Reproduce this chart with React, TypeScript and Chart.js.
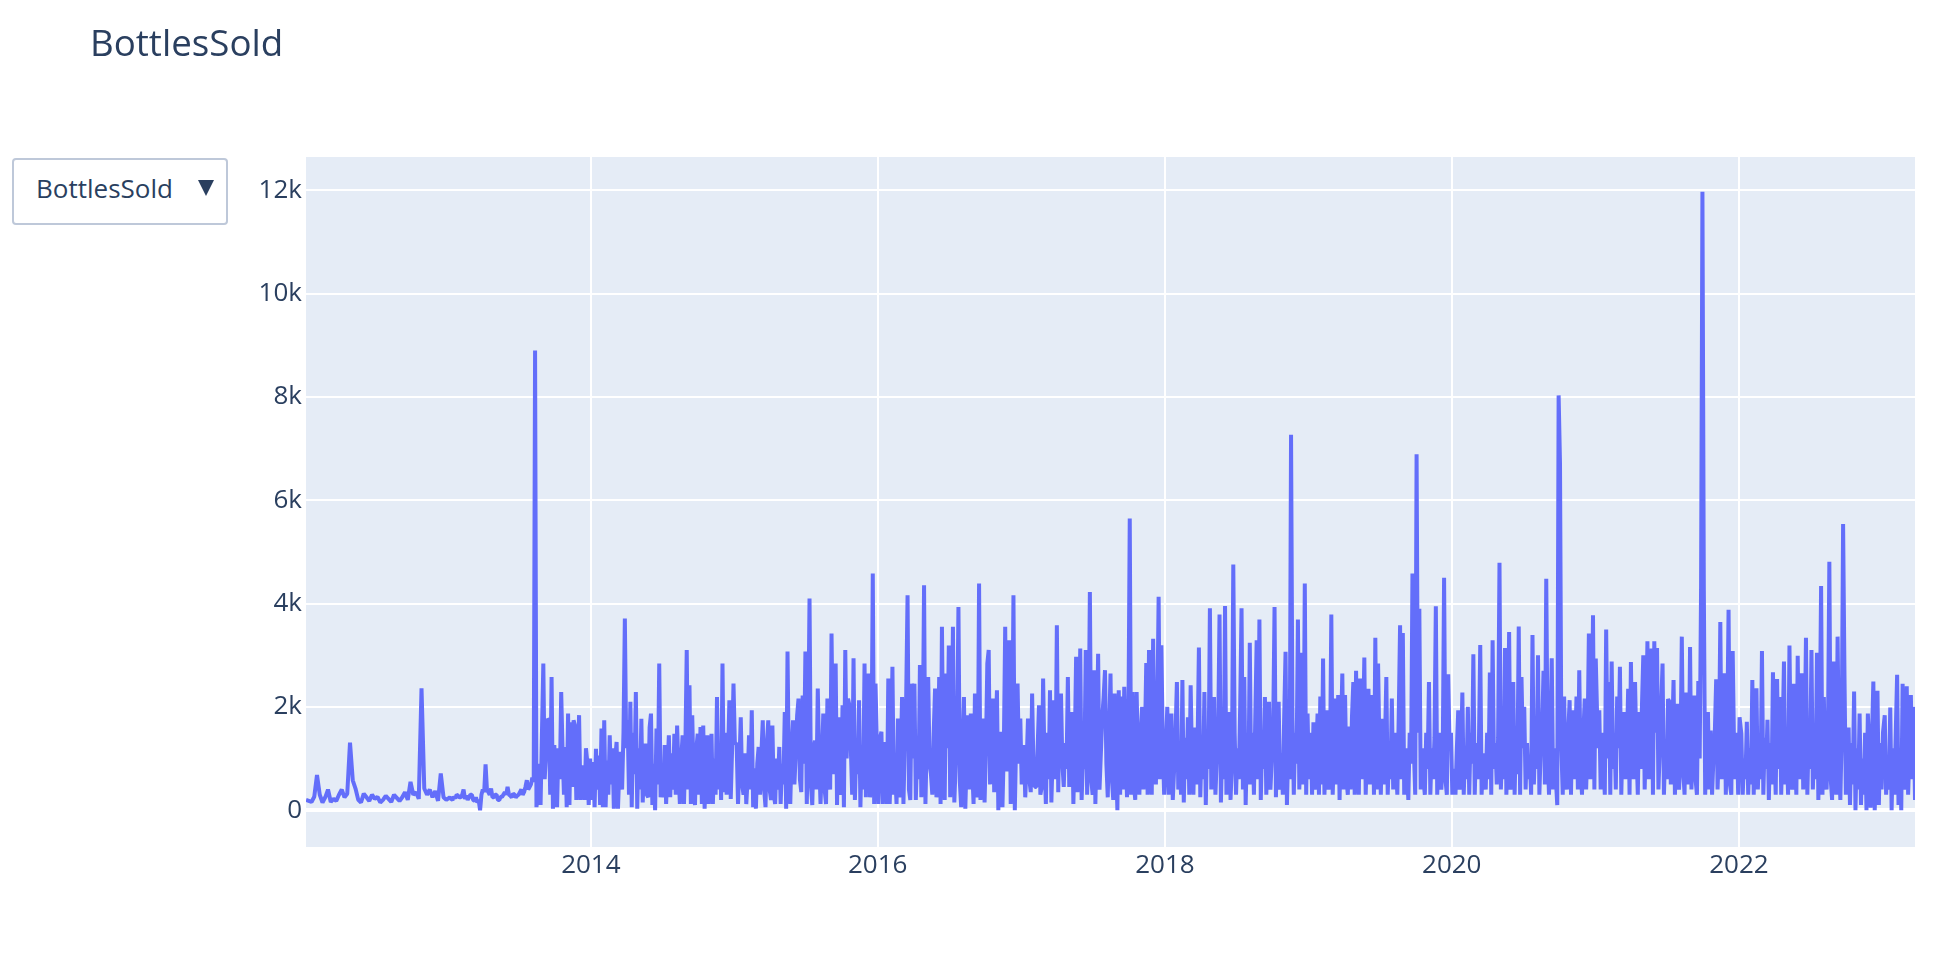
import React, { useEffect, useRef } from "react";
import { Chart, registerables } from "chart.js";

Chart.register(...registerables);

const TITLE = "BottlesSold";
const MENU_LABEL = "BottlesSold";
const X_TICK_YEARS = [2014, 2016, 2018, 2020, 2022];
const Y_TICKS = [0, 2000, 4000, 6000, 8000, 10000, 12000];
const Y_TICK_LABELS = ["0", "2k", "4k", "6k", "8k", "10k", "12k"];

// Values per year, starting on 7 January; 2012 is weekly, later years every 3.5 days
const bottles2012 = [200,180,160,260,680,300,150,250,400,160,220,180,300,400,250,320,1310,580,420,200,150,320,250,180,300,220,260,150,200,280,220,160,300,240,180,250,350,200,550,300,350,220,2360,420,300,400,250,370,180,710,250,200];
const bottles2013 = [
  250,220,200,260,230,300,280,250,250,300,400,220,280,200,250,300,300,200,180,250,150,200,0,300,400,350,
  890,400,350,300,420,250,250,300,300,200,200,260,260,300,350,300,450,300,280,250,320,300,250,280,300,350,
  400,300,350,450,580,400,450,500,630,550,8900,60,300,900,100,1500,2840,600,1160,1770,1740,300,2580,30,1260,400,
  60,1200,600,2290,1140,300,1225,60,1870,100,1700,450,1740,1640,200,900,1840,200,600,870,200,1200,930,100,1000,200,
];
const bottles2014 = [
  930,60,1190,400,1060,100,1580,60,1740,60,960,300,1450,500,1200,30,1000,1320,30,800,1130,400,1500,3710,1200,1740,
  300,2100,60,1500,700,2290,30,1200,400,1770,150,900,1290,300,250,1600,1870,100,900,0,1580,500,2840,250,900,250,
  1260,120,800,1450,250,1100,400,1480,300,1640,800,120,1000,1450,120,1200,3100,400,2420,120,1840,600,100,1200,1480,300,
  1610,120,1640,30,900,1450,120,700,1480,120,1000,300,2190,400,1300,200,2840,350,1500,300,1000,2130,220,1200,2450,1290,
];
const bottles2015 = [
  1290,120,900,1800,500,300,1100,120,600,1450,400,1935,60,810,30,900,1225,300,1100,1740,400,60,1300,1740,400,200,
  1640,300,120,1000,400,1225,120,900,500,1900,30,3070,700,120,1200,1740,500,1100,1840,2160,600,350,2220,900,3070,120,
  1400,4100,500,100,1200,1350,400,2355,1000,120,900,1870,400,120,2160,800,400,3420,1200,700,2840,100,1800,600,300,2030,
  60,3100,1000,2160,2030,1225,300,2940,200,1200,700,2130,60,1200,400,2840,250,1840,2645,250,900,4580,120,2450,1225,120,
];
const bottles2016 = [
  1400,1520,120,800,1320,120,2550,120,1000,2775,300,700,120,1775,250,900,2190,120,1300,2190,4160,400,200,2450,1000,2450,
  200,1100,600,2810,250,1200,4355,120,1400,2580,900,700,300,1500,2355,250,1000,2580,120,3550,900,200,2645,1200,3190,250,
  1300,3550,150,900,1400,3935,550,60,1200,2190,30,1000,1840,400,1870,800,120,2260,600,250,4390,200,900,1775,150,1200,
  2840,3100,500,900,2160,350,1400,2320,0,900,1520,60,1200,3550,750,1300,3290,120,900,4160,0,1400,2450,900,1775,500,
];
const bottles2017 = [
  1260,250,900,1775,600,350,2260,800,450,450,1200,2030,300,450,2550,900,120,1500,600,2320,150,1100,2130,600,3580,350,
  2030,2260,900,450,1300,800,2580,450,900,1900,120,1200,2970,350,1400,3130,200,1000,800,3100,300,1200,4225,600,300,2710,
  120,1300,3030,400,1100,1800,2190,2710,900,250,1500,2645,600,200,2260,1000,0,2320,300,2200,400,2390,1200,250,1600,5645,
  300,2290,500,200,2290,1000,300,1500,2000,400,1300,2850,300,3100,800,300,3320,1200,500,1800,4130,600,3195,1300,300,900,
];
const bottles2018 = [
  2000,300,1200,1870,200,800,1500,2480,400,1100,300,2520,150,1400,600,1800,300,2420,900,300,1600,500,1200,3150,250,1300,
  600,2290,100,1400,800,3910,400,1200,2190,300,1000,1500,3790,150,1300,600,3955,300,1200,1900,200,900,4755,1500,300,1200,
  600,2000,3910,400,2580,100,1300,500,3240,500,1500,300,1800,3290,600,3690,200,1400,800,2190,300,1200,2100,400,1000,1600,
  3935,250,1300,2100,400,1100,300,1800,3065,100,1200,600,7270,1800,300,1500,900,3690,400,1200,3050,500,4390,300,1870,600,
];
const bottles2019 = [
  1500,300,1700,400,1100,1870,300,2200,500,2935,300,1200,1935,400,800,3790,300,1200,2160,500,2230,200,1500,2645,400,2230,
  600,300,1620,400,1800,2480,300,2700,900,300,2550,600,1400,2955,300,1200,2350,500,1100,2230,300,3340,400,2840,1200,300,
  1770,500,1300,2580,300,1100,600,2160,400,1500,900,300,1800,3580,600,3430,300,1200,800,200,1500,900,4580,1200,300,6890,
  1500,3900,400,1200,600,300,1500,800,2480,300,1200,600,1400,3950,300,1100,1500,400,1000,4500,600,300,2630,1200,1500,300,
];
const bottles2020 = [
  800,300,1200,1935,400,1000,2280,300,1200,600,2000,300,1500,900,3020,300,1300,600,1200,3200,300,1000,1100,400,1500,600,
  2665,300,3290,800,1300,500,1400,4790,400,1200,600,3140,300,1200,3450,400,1000,2480,300,1500,700,3555,300,2580,1200,2000,
  400,1300,600,1000,300,3390,500,1400,800,3000,300,1200,1500,2700,500,4480,1100,300,1500,2940,400,1200,600,100,8030,6710,
  1200,300,2200,900,400,1500,2130,300,1935,600,1200,2200,400,2710,800,300,1500,2160,400,1300,3420,600,1200,3775,400,2935,
];
const bottles2021 = [
  1200,1935,400,1500,900,300,3500,1000,2480,300,2880,800,1500,400,2200,1200,2775,300,1500,1900,600,1200,2350,300,2870,1000,
  600,2480,1200,300,1900,800,2000,3000,400,1500,3270,600,1400,3130,300,3270,1500,3140,400,1200,2000,2840,300,1200,600,2150,
  2100,500,1400,2520,300,1200,2060,400,1000,3360,800,300,2280,1300,500,3160,400,1200,2220,600,300,2500,1000,4270,11970,4330,
  300,1200,1900,400,1540,300,1000,1500,2535,400,1200,3645,600,1300,2650,300,1500,3880,500,300,3080,1200,600,1500,300,1800,
];
const bottles2022 = [
  1480,300,1000,600,1710,300,1200,500,2520,300,1500,2360,400,1200,600,3080,300,1400,800,1750,200,1300,500,2670,1200,300,
  2540,800,2190,300,1400,2880,500,1200,300,3190,1000,400,2450,1200,300,2990,600,1500,2650,400,1200,3340,300,1500,800,3100,
  400,1300,600,3050,200,1500,4340,300,2190,900,400,1500,4810,600,200,2880,1200,300,3360,1000,200,1500,5540,2620,300,1200,
  1600,100,1300,500,2300,0,1200,400,1870,100,1000,300,1500,0,1870,1200,50,1400,2490,0,900,2310,100,1300,400,1500,
];
const bottles2023 = [1840,300,1000,400,1990,0,1200,300,1500,2620,100,1200,0,2450,400,1000,2400,300,1200,2230,600,2000,200];

// [year, days between values, values]
const YEAR_SERIES: [number, number, number[]][] = [
  [2012, 7, bottles2012],
  [2013, 3.5, bottles2013],
  [2014, 3.5, bottles2014],
  [2015, 3.5, bottles2015],
  [2016, 3.5, bottles2016],
  [2017, 3.5, bottles2017],
  [2018, 3.5, bottles2018],
  [2019, 3.5, bottles2019],
  [2020, 3.5, bottles2020],
  [2021, 3.5, bottles2021],
  [2022, 3.5, bottles2022],
  [2023, 3.5, bottles2023],
];

const DAY = 86400000;
const FONT_FAMILY = "'Open Sans', verdana, arial, sans-serif";
const TEXT_COLOR = "#2a3f5f";

export default function App() {
  const canvasRef = useRef<HTMLCanvasElement | null>(null);

  useEffect(() => {
    const canvas = canvasRef.current;
    if (!canvas) return;

    const points = YEAR_SERIES.flatMap(([yr, step, vals]) =>
      vals.map((v, i) => ({ x: Date.UTC(yr, 0, 7) + i * step * DAY, y: v }))
    );
    const xMin = points[0].x;
    const xMax = points[points.length - 1].x;

    const bgPlugin = {
      id: "plotBg",
      beforeDraw(chart: any) {
        const { ctx, chartArea } = chart;
        ctx.save();
        ctx.fillStyle = "#E5ECF6";
        ctx.fillRect(chartArea.left, chartArea.top, chartArea.right - chartArea.left, chartArea.bottom - chartArea.top);
        ctx.restore();
      },
    };

    const font = { family: FONT_FAMILY, size: 26 };

    const chart = new Chart(canvas, {
      type: "line",
      data: {
        datasets: [
          {
            label: TITLE,
            data: points,
            borderColor: "#636efa",
            backgroundColor: "#636efa",
            borderWidth: 4,
            pointRadius: 0,
            tension: 0,
            borderJoinStyle: "bevel",
            fill: false,
          },
        ],
      },
      options: {
        responsive: false,
        animation: false,
        devicePixelRatio: 1,
        layout: { padding: { top: 157, right: 35, bottom: 0, left: 0 } },
        plugins: {
          legend: { display: false },
          tooltip: { enabled: false },
          title: { display: false },
        },
        scales: {
          x: {
            type: "linear",
            min: xMin,
            max: xMax,
            afterBuildTicks: (scale: any) => {
              scale.ticks = X_TICK_YEARS.map((y) => ({ value: Date.UTC(y, 0, 1) }));
            },
            afterFit: (scale: any) => {
              scale.height = 109;
            },
            ticks: {
              autoSkip: false,
              maxRotation: 0,
              padding: 3,
              color: TEXT_COLOR,
              font,
              callback: (v: any) => String(new Date(Number(v)).getUTCFullYear()),
            },
            grid: { color: "#ffffff", lineWidth: 2, drawTicks: false },
            border: { display: false },
          },
          y: {
            type: "linear",
            min: -712,
            max: 12645,
            afterBuildTicks: (scale: any) => {
              scale.ticks = Y_TICKS.map((v) => ({ value: v }));
            },
            afterFit: (scale: any) => {
              scale.width = 306;
            },
            ticks: {
              autoSkip: false,
              padding: 4,
              color: TEXT_COLOR,
              font,
              callback: (v: any) => {
                const i = Y_TICKS.indexOf(Number(v));
                return i >= 0 ? Y_TICK_LABELS[i] : "";
              },
            },
            grid: {
              color: "#ffffff",
              lineWidth: (ctx: any) => (ctx.tick && ctx.tick.value === 0 ? 4 : 2),
              drawTicks: false,
            },
            border: { display: false },
          },
        },
      },
      plugins: [bgPlugin],
    } as any);

    return () => chart.destroy();
  }, []);

  return (
    <div style={{ position: "absolute", left: 0, top: 0, width: 1950, height: 956, background: "#fff" }}>
      <canvas ref={canvasRef} width={1950} height={956} style={{ position: "absolute", left: 0, top: 0, width: 1950, height: 956 }} />
      <div
        style={{
          position: "absolute",
          left: 90,
          top: 24,
          fontFamily: FONT_FAMILY,
          fontSize: 36.7,
          lineHeight: "36.7px",
          color: TEXT_COLOR,
          whiteSpace: "nowrap",
        }}
      >
        {TITLE}
      </div>
      <div
        style={{
          position: "absolute",
          left: 12,
          top: 158,
          width: 216,
          height: 67,
          boxSizing: "border-box",
          border: "2px solid #BEC8D9",
          borderRadius: 4,
          background: "#ffffff",
        }}
      />
      <div
        style={{
          position: "absolute",
          left: 36,
          top: 175,
          fontFamily: FONT_FAMILY,
          fontSize: 26,
          lineHeight: "26px",
          color: TEXT_COLOR,
          whiteSpace: "nowrap",
        }}
      >
        {MENU_LABEL}
      </div>
      <div
        style={{
          position: "absolute",
          left: 198,
          top: 180,
          width: 0,
          height: 0,
          borderLeft: "8px solid transparent",
          borderRight: "8px solid transparent",
          borderTop: "16px solid #2a3f5f",
        }}
      />
    </div>
  );
}
